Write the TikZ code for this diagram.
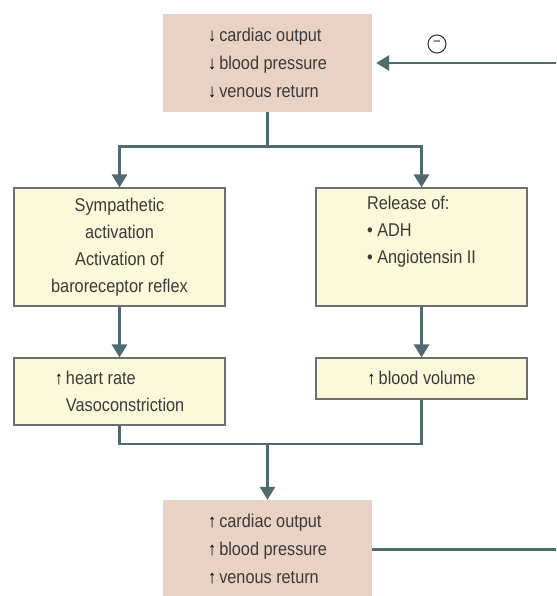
\documentclass[tikz,border=0pt]{standalone}
\usepackage{fontspec}
\setmainfont{Liberation Sans}[FakeStretch=0.88]
\usetikzlibrary{arrows.meta}
\definecolor{Ink}{HTML}{3A3A3A}
\definecolor{Line}{HTML}{506B70}
\definecolor{Frame}{HTML}{6E6E6E}
\definecolor{Tan}{HTML}{E9D2C4}
\definecolor{Cream}{HTML}{FCF8DA}
\newcommand\arrdn{{\color{black}↓}\,}
\newcommand\arrup{{\color{black}↑}\,}
\tikzset{tanbox/.style={fill=Tan,text=Ink,minimum width=209pt,align=left,font=\fontsize{18.5}{28}\selectfont},creambox/.style={draw=Frame,line width=1.1pt,fill=Cream,text=Ink,minimum width=211pt,font=\fontsize{18.5}{27}\selectfont},flow/.style={-{Triangle[length=13pt,width=15pt]},line width=2.8pt,draw=Line},link/.style={line width=2.8pt,draw=Line}}
\begin{document}
\begin{tikzpicture}[x=1pt,y=-1pt]
      \clip (0,0) rectangle (556,596);
      \fill[white] (0,0) rectangle (556,596);
      \node[tanbox,minimum height=98pt](fall) at (267.5,63){\arrdn cardiac output\\\arrdn blood pressure\\\arrdn venous return};
      \node[creambox,minimum height=118pt,align=center](sympa) at (119.5,247){Sympathetic\\activation\\Activation of\\baroreceptor reflex};
      \node[creambox,minimum height=118pt,align=left](release) at (421.5,247){Release of:\\\textbullet\ ADH\\\textbullet\ Angiotensin II\\\strut};
      \node[creambox,minimum height=67pt,align=left](heart) at (119.5,391.5){\arrup heart rate\\\phantom{\arrup}Vasoconstriction};
      \node[creambox,minimum height=41pt,align=center](volume) at (421.5,378.5){\arrup blood volume};
      \node[tanbox,minimum height=99pt](rise) at (267.5,549.5){\arrup cardiac output\\\arrup blood pressure\\\arrup venous return};
      \node[circle,draw=Ink,line width=1.1pt,minimum size=18pt,inner sep=0pt,text=Ink,font=\fontsize{15}{15}\selectfont](sign) at (437,44){−};
      \draw[link](fall.south)--++(0,34)coordinate(split);
      \draw[flow](split)-|(sympa.north);\draw[flow](split)-|(release.north);
      \draw[flow](sympa)--(heart);\draw[flow](release)--(volume);
      \coordinate(join) at (267.5,444);
      \draw[link](heart.south)|-(join)-|(volume.south);\draw[flow](join)--(rise.north);
      \draw[flow,shorten >=4pt](rise.east)--++(200,0)|-(fall.east);
    \end{tikzpicture}
\end{document}
